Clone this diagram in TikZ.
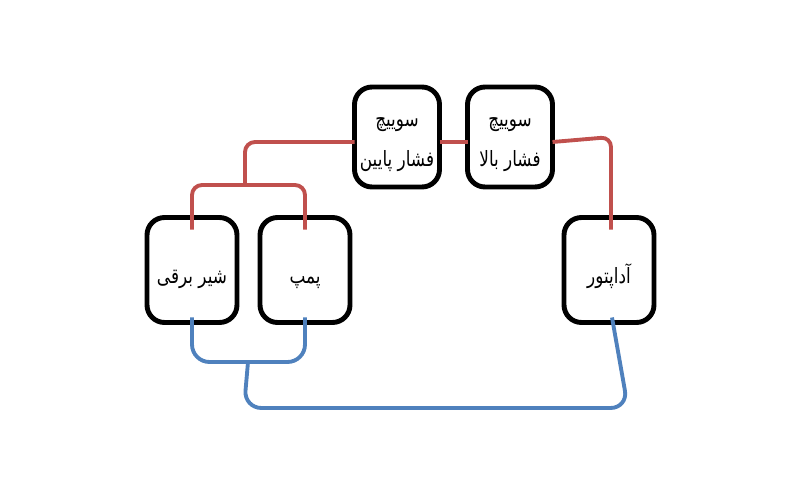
\documentclass[tikz,border=0pt]{standalone}
\usepackage{fontspec}
\newfontfamily\arabicfont[Script=Arabic, FakeStretch=0.8]{DejaVu Sans}
\TeXXeTstate=1
\usetikzlibrary{calc}

\definecolor{pipered}{RGB}{192,80,77}
\definecolor{pipeblue}{RGB}{79,129,189}

\tikzset{
  part/.style={draw=black, line width=2.8pt, rounded corners=0.35cm,
    minimum width=1.8cm, minimum height=2.1cm, inner sep=0pt, outer sep=0pt,
    align=center, text height=0.55cm, text depth=0.03cm,
    font=\arabicfont\fontsize{12}{23}\selectfont},
  switchpart/.style={part, minimum width=1.7cm, minimum height=2cm,
    text height=1.25cm, text depth=0.05cm},
  hotpipe/.style={draw=pipered, line width=2.2pt, rounded corners=0.2cm},
  coldpipe/.style={draw=pipeblue, line width=2.2pt, rounded corners=0.35cm}
}

\begin{document}
\begin{tikzpicture}[x=0.02cm, y=-0.02cm]
        \useasboundingbox (0,0) rectangle (800,500);

        \node[part] (valve) at (192,270) {\beginR شیر برقی\endR};
        \node[part] (pump) at (305,270) {\beginR پمپ\endR};
        \node[part] (adaptor) at (609,270) {\beginR آداپتور\endR};
        \node[switchpart] (low) at (397,137) {\beginR سوییچ\endR\\\beginR فشار پایین\endR};
        \node[switchpart] (high) at (510,137) {\beginR سوییچ\endR\\\beginR فشار بالا\endR};

        \coordinate (redjoin) at (245,185);
        \coordinate (bluejoin) at (248,362);

        % red side
        \draw[hotpipe] ($(low.west)+(0,5)$) -- (245,142) -- (redjoin);
        \draw[hotpipe] ($(valve.north)+(0,12)$) |- (redjoin) -| ($(pump.north)+(0,12)$);
        \draw[hotpipe] ($(low.east)+(0,5)$) -- ($(high.west)+(0,5)$);
        \draw[hotpipe] ($(high.east)+(0,5)$) -- (611,137) -- ($(adaptor.north)+(2,12)$);

        % blue side
        \draw[coldpipe] ($(valve.south)+(0,-5)$) |- (bluejoin) -| ($(pump.south)+(0,-5)$);
        \draw[coldpipe] (bluejoin) -- (244,408) -- (628,408) -- ($(adaptor.south)+(3,-5)$);

\end{tikzpicture}
\end{document}
